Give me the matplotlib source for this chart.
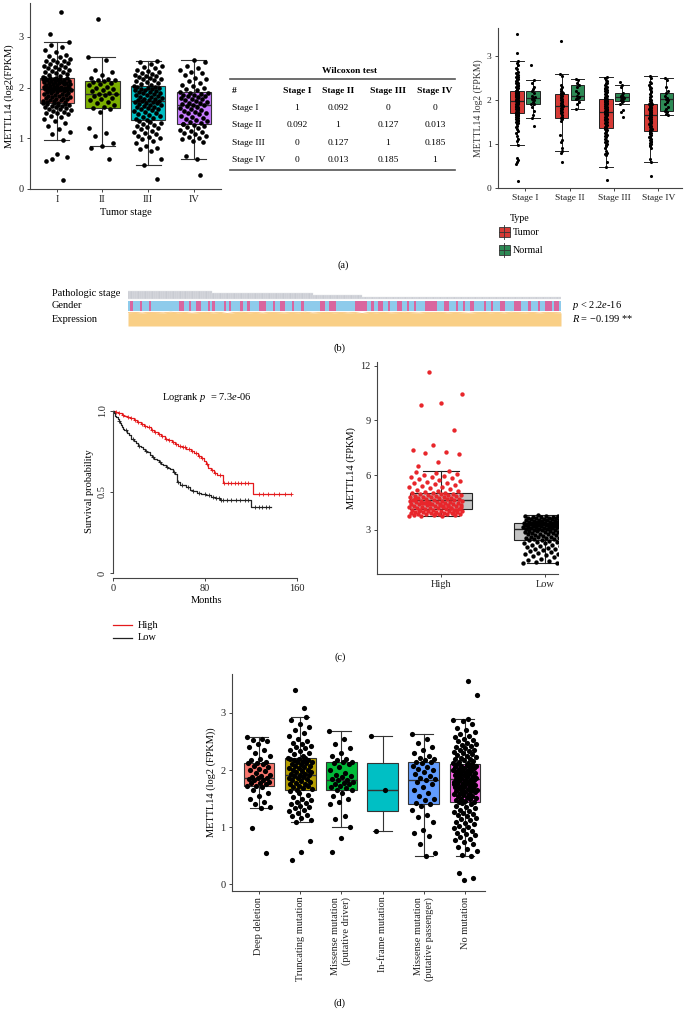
import numpy as np
import matplotlib
matplotlib.use('Agg')
import matplotlib.pyplot as plt
from matplotlib.patches import Rectangle

plt.rcParams['font.family'] = ['Liberation Serif', 'DejaVu Serif']
plt.rcParams['mathtext.fontset'] = 'custom'
plt.rcParams['mathtext.rm'] = 'Liberation Serif'
plt.rcParams['mathtext.it'] = 'Liberation Serif:italic'
plt.rcParams['font.size'] = 7.5

# ---------------- (a) METTL14 by tumor stage ----------------
stage_names = ['I', 'II', 'III', 'IV']
stage_ticks = ['Stage I', 'Stage II', 'Stage III', 'Stage IV']
stage1 = [2.21, 2.23, 2.25, 2.27, 2.28, 2.3, 2.31, 2.33, 2.35, 2.36, 2.38, 2.4, 2.41, 2.43, 2.45,
          2.47, 2.48, 2.5, 2.52, 2.53, 2.55, 2.57, 2.6, 2.62, 2.65, 2.7, 2.74, 2.8, 2.85, 2.9,
          1.70, 1.71, 1.72, 1.73, 1.74, 1.75, 1.76, 1.77, 1.78, 1.79, 1.8, 1.81, 1.82, 1.83, 1.84,
          1.85, 1.86, 1.87, 1.88, 1.89, 1.9, 1.91, 1.92, 1.93, 1.94, 1.95, 1.95, 1.96, 1.96, 1.97,
          1.97, 1.98, 1.98, 1.99, 1.99, 2.0, 2.0, 2.01, 2.01, 2.02, 2.03, 2.04, 2.05, 2.06, 2.07,
          2.07, 2.08, 2.09, 2.1, 2.1, 2.11, 2.12, 2.12, 2.13, 2.14, 2.15, 2.15, 2.16, 2.17, 2.17,
          2.18, 2.19, 2.19, 2.2, 2.2, 0.97, 1.08, 1.12, 1.18, 1.25, 1.3, 1.35, 1.38, 1.42, 1.45,
          1.47, 1.49, 1.5, 1.52, 1.54, 1.55, 1.57, 1.58, 1.6, 1.61, 1.62, 1.63, 1.64, 1.65, 1.66,
          1.67, 1.68, 1.69, 1.69, 3.5, 3.06, 0.64, 0.69, 0.55, 0.17, 0.6]
stage2 = [2.6, 2.55, 2.35, 2.3, 2.25, 2.2, 2.18, 2.16, 2.15, 2.13, 2.12, 2.1, 2.08, 2.05, 2.02,
          2.0, 1.97, 1.95, 1.93, 1.9, 1.88, 1.87, 1.85, 1.83, 1.8, 1.78, 1.75, 1.72, 1.7, 1.66,
          1.62, 1.6, 1.58, 1.52, 1.2, 1.1, 1.05, 0.9, 0.84, 0.8, 0.6, 3.35]
stage3 = [2.04, 2.06, 2.08, 2.1, 2.12, 2.13, 2.15, 2.17, 2.18, 2.2, 2.21, 2.22, 2.23, 2.25, 2.27,
          2.28, 2.3, 2.32, 2.35, 2.38, 2.4, 2.43, 2.46, 2.5, 2.52, 1.36, 1.38, 1.4, 1.42, 1.44,
          1.46, 1.48, 1.5, 1.52, 1.54, 1.55, 1.57, 1.58, 1.6, 1.61, 1.62, 1.64, 1.65, 1.66, 1.68,
          1.69, 1.7, 1.71, 1.72, 1.73, 1.74, 1.75, 1.76, 1.77, 1.78, 1.8, 1.81, 1.82, 1.84, 1.85,
          1.86, 1.88, 1.89, 1.9, 1.91, 1.92, 1.94, 1.95, 1.96, 1.97, 1.98, 1.99, 2.0, 2.01, 2.02,
          0.47, 0.6, 0.75, 0.78, 0.8, 0.85, 0.9, 0.95, 0.98, 1.0, 1.02, 1.05, 1.08, 1.1, 1.12,
          1.15, 1.18, 1.2, 1.22, 1.25, 1.27, 1.29, 1.31, 1.33, 1.35, 0.19]
stage4 = [1.92, 1.95, 1.97, 2.0, 2.03, 2.06, 2.1, 2.14, 2.18, 2.2, 2.25, 2.28, 2.3, 2.35, 2.38,
          2.42, 2.5, 2.55, 1.29, 1.31, 1.33, 1.35, 1.37, 1.39, 1.41, 1.43, 1.45, 1.47, 1.49, 1.5,
          1.52, 1.54, 1.56, 1.58, 1.6, 1.62, 1.63, 1.65, 1.66, 1.67, 1.69, 1.7, 1.72, 1.74, 1.75,
          1.77, 1.78, 1.8, 1.82, 1.83, 1.84, 1.85, 1.86, 1.88, 1.89, 1.9, 0.6, 0.66, 0.92, 0.95,
          0.98, 1.0, 1.02, 1.05, 1.08, 1.1, 1.12, 1.15, 1.17, 1.2, 1.22, 1.24, 1.26, 1.28, 0.28]
a_q1 = [1.70, 1.60, 1.36, 1.29]
a_med = [1.98, 1.87, 1.74, 1.66]
a_q3 = [2.20, 2.13, 2.03, 1.91]
a_lo = [0.97, 0.84, 0.47, 0.60]
a_hi = [2.90, 2.60, 2.52, 2.55]

normal1 = [2.8, 2.45, 2.4, 2.3, 2.25, 2.2, 2.15, 2.1, 2.08, 2.05, 2.02, 2.0, 1.95, 1.92, 1.9,
           1.85, 1.75, 1.65, 1.6, 1.42]
normal2 = [2.47, 2.45, 2.4, 2.35, 2.3, 2.2, 2.15, 2.1, 2.08, 2.05, 2.02, 1.95, 1.9, 1.8]
normal3 = [2.42, 2.35, 2.3, 2.15, 2.12, 2.1, 2.08, 2.07, 2.05, 2.02, 2.0, 1.98, 1.95, 1.9, 1.77,
           1.72, 1.62]
normal4 = [2.5, 2.45, 2.3, 2.2, 2.15, 2.1, 2.05, 2.02, 2.0, 1.95, 1.9, 1.85, 1.8, 1.75, 1.72,
           1.68, 1.65]
n_q1 = [1.90, 2.00, 1.98, 1.75]
n_med = [2.05, 2.10, 2.07, 2.02]
n_q3 = [2.20, 2.35, 2.15, 2.15]
n_lo = [1.60, 1.80, 1.90, 1.65]
n_hi = [2.45, 2.47, 2.35, 2.50]

wilcox_cols = ['#', 'Stage I', 'Stage II', 'Stage III', 'Stage IV']
wilcox_rows = ['Stage I', 'Stage II', 'Stage III', 'Stage IV']
wilcox_vals = [['1', '0.092', '0', '0'],
               ['0.092', '1', '0.127', '0.013'],
               ['0', '0.127', '1', '0.185'],
               ['0', '0.013', '0.185', '1']]

# ---------------- (b) heatmap strip ----------------
stage_counts = [36, 43, 21, 85]
gender = ('MFMMMFMMMF' 'MMMMMMMMMM' 'MMFFMMFMMF' 'FMMMFMFMMM' 'MFMFMMMMFM'
          'MFMMMMFFFM' 'MMFMMFFMMM' 'FMMMFMMMMM' 'MMFFMMFFFM' 'MMMMMMMFFF'
          'FFMMFMMFFM' 'MFMMMFFMMF' 'MMFMMMMFFF' 'FFMMMFFMMM' 'FMMFMMFFMM'
          'MMFMMFMMMF' 'FMMMMFFFMM' 'MFMMMFMMFF' 'FMFFM')
expression = [0.95, 0.97, 0.93, 0.98, 0.96, 0.94, 0.99, 0.95, 0.97, 0.92, 0.96, 0.98, 0.94, 0.97,
              0.9, 0.96, 0.99, 0.95, 0.97, 0.93, 0.98, 0.96, 0.94, 0.97, 0.95, 0.99, 0.93, 0.96,
              0.98, 0.95, 0.97, 0.94, 0.96, 0.9, 0.97, 0.95, 0.98, 0.94, 0.96, 0.99, 0.95, 0.93,
              0.97, 0.96, 0.98, 0.94, 0.97, 0.95, 0.92, 0.96, 0.98, 0.95, 0.97, 0.94, 0.99, 0.96,
              0.95, 0.97, 0.93, 0.98, 0.96, 0.94]

# ---------------- (c) survival ----------------
high_t = [0, 2, 4, 6, 8, 10, 12, 15, 18, 21, 24, 27, 30, 33, 36, 39, 42, 45, 48, 51, 54, 57, 60,
          64, 68, 71, 74, 77, 79, 81, 83, 85, 88, 91, 95.5, 122]
high_s = [1.0, 0.995, 0.99, 0.985, 0.975, 0.97, 0.963, 0.955, 0.945, 0.935, 0.92, 0.91, 0.9,
          0.885, 0.87, 0.86, 0.845, 0.83, 0.82, 0.81, 0.795, 0.785, 0.775, 0.768, 0.755, 0.74,
          0.725, 0.71, 0.69, 0.67, 0.65, 0.635, 0.62, 0.605, 0.555, 0.485]
high_end = 155
high_cens = [3, 5, 9, 13, 16, 19, 22, 25, 28, 31, 34, 37, 40, 43, 46, 49, 52, 55, 58, 61, 63, 66,
             69, 72, 75, 78, 82, 86, 89, 93, 97, 100, 103, 106, 109, 112, 115, 118, 127, 131,
             135, 140, 145, 150, 155]
low_t = [0, 1, 2, 3, 4, 5, 6, 7, 8, 9, 10, 12, 14, 16, 18, 20, 22, 24, 26, 28, 30, 32, 34, 36,
         38, 40, 42, 44, 46, 48, 50, 52, 54, 55.5, 56, 58, 61, 64, 67, 70, 73, 77, 81, 85, 89,
         93, 120]
low_s = [1.0, 0.985, 0.97, 0.96, 0.95, 0.94, 0.925, 0.915, 0.9, 0.89, 0.88, 0.865, 0.85, 0.83,
         0.815, 0.8, 0.785, 0.775, 0.765, 0.755, 0.745, 0.73, 0.715, 0.705, 0.695, 0.685, 0.675,
         0.665, 0.655, 0.648, 0.64, 0.625, 0.61, 0.58, 0.56, 0.545, 0.54, 0.53, 0.515, 0.505,
         0.495, 0.49, 0.48, 0.47, 0.46, 0.45, 0.41]
low_end = 138
low_cens = [5, 11, 17, 23, 29, 35, 41, 47, 53, 57, 60, 65, 70, 75, 80, 84, 87, 90, 92, 94, 96,
            99, 103, 107, 111, 115, 118, 124, 127, 130, 133, 136]

# (c) right: METTL14 FPKM in High / Low groups
group_names = ['High', 'Low']
high_fpkm = [3.76, 3.78, 3.79, 3.81, 3.82, 3.84, 3.85, 3.86, 3.88, 3.89, 3.9, 3.92, 3.93, 3.94,
             3.95, 3.97, 3.98, 3.99, 4.0, 4.02, 4.03, 4.05, 4.06, 4.07, 4.09, 4.1, 4.11, 4.13,
             4.15, 4.16, 4.18, 4.19, 4.21, 4.22, 4.24, 4.25, 4.27, 4.29, 4.3, 4.32, 4.33, 4.35,
             4.37, 4.38, 4.4, 4.41, 4.43, 4.45, 4.46, 4.48, 4.5, 4.51, 4.53, 4.55, 4.56, 4.58,
             4.6, 4.61, 4.63, 4.65, 4.66, 4.68, 4.7, 4.71, 4.73, 4.75, 4.76, 4.78, 4.8, 4.81,
             4.83, 4.85, 4.86, 4.88, 4.9, 4.91, 4.93, 4.95, 4.96, 4.98, 5.0, 5.02, 5.05, 5.08,
             5.12, 5.15, 5.2, 5.24, 5.28, 5.33, 5.37, 5.42, 5.46, 5.5, 5.55, 5.6, 5.64, 5.69,
             5.73, 5.78, 5.83, 5.88, 5.92, 5.97, 6.02, 6.08, 6.14, 6.2, 6.23, 11.65, 10.45,
             9.95, 9.85, 8.5, 7.65, 7.4, 7.25, 7.2, 7.15, 6.7, 6.5, 4.2, 4.4, 4.6, 4.3, 4.5,
             4.1, 3.9, 4.7, 4.35, 4.55, 4.25, 4.45, 4.05, 3.95]
low_fpkm = [1.17, 1.2, 1.22, 1.25, 1.3, 1.33, 1.38, 1.42, 1.45, 1.5, 1.55, 1.6, 1.62, 1.66, 1.7,
            1.73, 1.77, 1.8, 1.83, 1.86, 1.9, 1.93, 1.95, 1.98, 2.0, 2.03, 2.06, 2.1, 2.12, 2.15,
            2.18, 2.2, 2.23, 2.27, 2.3, 2.33, 2.36, 2.39, 2.42, 2.44, 2.46, 2.47, 2.49, 2.5,
            2.52, 2.53, 2.55, 2.56, 2.58, 2.6, 2.61, 2.63, 2.64, 2.66, 2.68, 2.69, 2.71, 2.72,
            2.74, 2.76, 2.77, 2.79, 2.8, 2.82, 2.84, 2.85, 2.87, 2.88, 2.9, 2.91, 2.93, 2.94,
            2.96, 2.97, 2.98, 2.99, 3.0, 3.01, 3.02, 3.03, 3.05, 3.06, 3.07, 3.08, 3.09, 3.1,
            3.11, 3.12, 3.13, 3.14, 3.15, 3.16, 3.17, 3.18, 3.19, 3.2, 3.21, 3.22, 3.23, 3.24,
            3.25, 3.26, 3.27, 3.28, 3.29, 3.3, 3.3, 3.31, 3.32, 3.32, 3.33, 3.33, 3.34, 3.34,
            3.35, 3.35, 3.36, 3.36, 3.37, 3.37, 3.38, 3.39, 3.4, 3.41, 3.42, 3.43, 3.44, 3.45,
            3.46, 3.47, 3.48, 3.49, 3.5, 3.51, 3.52, 3.53, 3.54, 3.55, 3.56, 3.57, 3.58, 3.59,
            3.6, 3.61, 3.62, 3.63, 3.64, 3.65, 3.66, 3.67, 3.68, 3.69, 3.7, 3.71, 3.72, 3.74,
            3.75, 3.77, 3.78, 3.8]
c_q1 = [4.14, 2.45]
c_med = [4.62, 3.04]
c_q3 = [5.02, 3.37]
c_lo = [3.76, 1.17]
c_hi = [6.23, 3.80]

# ---------------- (d) mutation types ----------------
mut_names = ['Deep deletion', 'Truncating mutation', 'Missense mutation\n(putative driver)',
             'In-frame mutation', 'Missense mutation\n(putative passenger)', 'No mutation']
deep_del = [2.58, 2.55, 2.52, 2.5, 2.45, 2.4, 2.35, 2.3, 2.25, 2.2, 2.18, 2.15, 2.13, 2.12, 2.1,
            2.07, 2.05, 2.02, 2.0, 1.98, 1.95, 1.92, 1.9, 1.88, 1.87, 1.86, 1.85, 1.83, 1.82,
            1.8, 1.78, 1.77, 1.75, 1.73, 1.72, 1.7, 1.65, 1.6, 1.55, 1.5, 1.45, 1.4, 1.36, 1.34,
            0.99, 0.55]
truncating = [2.22, 2.25, 2.28, 2.3, 2.33, 2.35, 2.38, 2.4, 2.42, 2.45, 2.47, 2.5, 2.55, 2.6,
              2.65, 2.7, 2.75, 2.8, 2.87, 2.93, 1.66, 1.67, 1.69, 1.7, 1.72, 1.73, 1.75, 1.76,
              1.78, 1.8, 1.81, 1.83, 1.84, 1.86, 1.87, 1.88, 1.9, 1.91, 1.92, 1.93, 1.94, 1.96,
              1.97, 1.98, 2.0, 2.01, 2.03, 2.04, 2.06, 2.07, 2.08, 2.1, 2.11, 2.12, 2.14, 2.15,
              2.16, 2.17, 2.18, 2.19, 2.2, 2.21, 1.1, 1.13, 1.17, 1.2, 1.22, 1.25, 1.28, 1.3,
              1.33, 1.35, 1.38, 1.4, 1.43, 1.45, 1.48, 1.5, 1.53, 1.56, 1.6, 1.64, 3.09, 3.4,
              0.76, 0.56, 0.42]
driver = [2.69, 2.55, 2.45, 2.38, 2.3, 2.25, 2.2, 2.17, 2.15, 2.14, 2.12, 2.1, 2.05, 2.0, 1.95,
          1.92, 1.9, 1.88, 1.85, 1.83, 1.82, 1.8, 1.78, 1.76, 1.75, 1.72, 1.7, 1.68, 1.66, 1.65,
          1.6, 1.55, 1.5, 1.45, 1.4, 1.2, 1.15, 1.0, 0.81, 0.57]
inframe = [2.6, 1.65, 0.93]
passenger = [2.63, 2.55, 2.48, 2.4, 2.35, 2.3, 2.25, 2.22, 2.2, 2.17, 2.15, 2.14, 2.12, 2.08,
             2.05, 2.02, 2.0, 1.97, 1.93, 1.9, 1.87, 1.85, 1.83, 1.8, 1.75, 1.7, 1.65, 1.6,
             1.55, 1.5, 1.47, 1.43, 1.41, 1.38, 1.3, 1.22, 1.18, 1.1, 0.95, 0.9, 0.85, 0.7,
             0.55, 0.49]
no_mut = [2.12, 2.13, 2.15, 2.16, 2.18, 2.19, 2.2, 2.22, 2.23, 2.25, 2.26, 2.28, 2.3, 2.31, 2.33,
          2.35, 2.36, 2.38, 2.4, 2.42, 2.44, 2.45, 2.47, 2.5, 2.52, 2.55, 2.57, 2.6, 2.63, 2.66,
          2.7, 2.74, 2.8, 2.85, 2.87, 2.89, 1.44, 1.45, 1.46, 1.48, 1.49, 1.5, 1.51, 1.53, 1.54,
          1.55, 1.56, 1.58, 1.59, 1.6, 1.61, 1.62, 1.63, 1.64, 1.65, 1.66, 1.67, 1.68, 1.69,
          1.7, 1.71, 1.72, 1.73, 1.74, 1.75, 1.76, 1.77, 1.78, 1.79, 1.8, 1.81, 1.82, 1.83,
          1.84, 1.85, 1.86, 1.87, 1.88, 1.89, 1.9, 1.91, 1.92, 1.93, 1.94, 1.95, 1.96, 1.97,
          1.98, 1.99, 2.0, 2.01, 2.02, 2.03, 2.04, 2.05, 2.06, 2.07, 2.08, 2.09, 2.1, 2.11,
          1.72, 1.76, 1.8, 1.84, 1.88, 1.92, 1.96, 0.49, 0.52, 0.58, 0.62, 0.66, 0.7, 0.74,
          0.78, 0.8, 0.83, 0.86, 0.88, 0.9, 0.93, 0.95, 0.98, 1.0, 1.02, 1.05, 1.07, 1.1, 1.12,
          1.14, 1.17, 1.19, 1.21, 1.23, 1.25, 1.27, 1.29, 1.31, 1.33, 1.35, 1.38, 1.4, 1.42,
          3.32, 3.56, 0.2, 0.11, 0.08]
d_q1 = [1.72, 1.66, 1.65, 1.29, 1.40, 1.44]
d_med = [1.87, 1.92, 1.82, 1.65, 1.83, 1.84]
d_q3 = [2.13, 2.21, 2.14, 2.13, 2.14, 2.11]
d_lo = [1.34, 1.10, 1.00, 0.93, 0.49, 0.49]
d_hi = [2.58, 2.93, 2.69, 2.60, 2.63, 2.89]

# ---------------- drawing ----------------
W, H = 685, 1019
AX = '#444444'
fig = plt.figure(figsize=(W / 100, H / 100), dpi=100)


def rect(x0, y0, x1, y1):
    return [x0 / W, 1 - y1 / H, (x1 - x0) / W, (y1 - y0) / H]


def style(ax, size=7.5):
    for s in ['top', 'right']:
        ax.spines[s].set_visible(False)
    for s in ['left', 'bottom']:
        ax.spines[s].set_color(AX)
        ax.spines[s].set_linewidth(0.8)
    ax.tick_params(color=AX, length=2.5, width=0.7, labelsize=size, pad=2, labelcolor='#222222')
    ax.patch.set_visible(False)


def jitter(n, w):
    return (np.arange(n) * 0.618034 % 1 - 0.5) * w


def stats(q1, med, q3, lo, hi):
    return [dict(q1=a, med=b, q3=c, whislo=d, whishi=e, fliers=[])
            for a, b, c, d, e in zip(q1, med, q3, lo, hi)]


def boxes(ax, st, pos, colors, width, capw, edge='#333333', lw=0.8):
    bp = ax.bxp(st, positions=pos, widths=width, patch_artist=True, showfliers=False,
                capwidths=capw, manage_ticks=False,
                boxprops=dict(edgecolor=edge, linewidth=lw),
                medianprops=dict(color=edge, linewidth=lw + 0.2),
                whiskerprops=dict(color=edge, linewidth=lw),
                capprops=dict(color=edge, linewidth=lw))
    for patch, c in zip(bp['boxes'], colors):
        patch.set_facecolor(c)


overlay = fig.add_axes([0, 0, 1, 1])
overlay.set_xlim(0, W)
overlay.set_ylim(H, 0)
overlay.axis('off')

# (a) left
ax1 = fig.add_axes(rect(30, 3, 221, 189))
style(ax1)
stage_data = [stage1, stage2, stage3, stage4]
boxes(ax1, stats(a_q1, a_med, a_q3, a_lo, a_hi), [1, 2, 3, 4],
      ['#F8766D', '#7CAE00', '#00BFC4', '#C77CFF'], 0.75, 0.55)
for i, g in enumerate(stage_data):
    ax1.scatter(i + 1 + jitter(len(g), 0.62), g, s=11, color='black', lw=0, zorder=3)
ax1.set_xlim(0.41, 4.6)
ax1.set_ylim(0, 3.67)
ax1.set_xticks([1, 2, 3, 4], stage_names)
ax1.set_yticks([0, 1, 2, 3])
ax1.set_xlabel('Tumor stage', fontsize=7.5, labelpad=3)
ax1.set_ylabel('METTL14 (log2(FPKM)', fontsize=7.5, labelpad=3)

# (a) middle table
overlay.text(350, 71, 'Wilcoxon test', ha='center', va='center', fontsize=6.8, fontweight='bold')
overlay.plot([230, 455], [79, 79], color='#555555', lw=1.2)
overlay.plot([230, 455], [170, 170], color='#555555', lw=1.2)
col_x = [232, 297, 338, 388, 435]
for x, name in zip(col_x, wilcox_cols):
    overlay.text(x, 91, name, ha='left' if name == '#' else 'center', va='center',
                 fontsize=6.8, fontweight='bold')
for r, (row, vals) in enumerate(zip(wilcox_rows, wilcox_vals)):
    y = 108 + r * 17.4
    overlay.text(232, y, row, ha='left', va='center', fontsize=6.8)
    for x, v in zip(col_x[1:], vals):
        overlay.text(x, y, v, ha='center', va='center', fontsize=6.8)

# (a) right
ax2 = fig.add_axes(rect(498, 28, 682, 188))
style(ax2, 6.8)
tum_pos = np.arange(1, 5) - 0.18
nor_pos = np.arange(1, 5) + 0.18
normal_data = [normal1, normal2, normal3, normal4]
boxes(ax2, stats(a_q1, a_med, a_q3, a_lo, a_hi), tum_pos, ['#D63A35'] * 4, 0.3, 0.3,
      edge='#222222', lw=0.7)
boxes(ax2, stats(n_q1, n_med, n_q3, n_lo, n_hi), nor_pos, ['#2D8A55'] * 4, 0.3, 0.3,
      edge='#222222', lw=0.7)
for i in range(4):
    g = stage_data[i]
    ax2.scatter(tum_pos[i] + jitter(len(g), 0.05), g, s=5, color='black', lw=0, zorder=3)
    g = normal_data[i]
    ax2.scatter(nor_pos[i] + jitter(len(g), 0.08), g, s=5, color='black', lw=0, zorder=3)
ax2.set_xlim(0.39, 4.53)
ax2.set_ylim(0, 3.64)
ax2.set_xticks([1, 2, 3, 4], stage_ticks)
ax2.set_yticks([0, 1, 2, 3])
ax2.set_ylabel('METTL14 log2 (FPKM)', fontsize=7, labelpad=3, color='#333333')

overlay.text(520, 218, 'Type', ha='center', va='center', fontsize=7.2)
for y, lab, col in [(232, 'Tumor', '#D63A35'), (250, 'Normal', '#2D8A55')]:
    overlay.add_patch(Rectangle((499, y - 5), 11, 10, facecolor=col, edgecolor='#333333', lw=0.6))
    overlay.plot([504.5, 504.5], [y - 7, y + 7], color='#333333', lw=0.6)
    overlay.plot([499, 510], [y, y], color='#333333', lw=0.6)
    overlay.text(513, y, lab, ha='left', va='center', fontsize=7.2)
overlay.text(343, 265, '(a)', ha='center', va='center', fontsize=7.5)

# (b) strip
axb = fig.add_axes(rect(128, 289, 561, 327))
N = len(gender)
idx = np.arange(N)
stage_of = np.repeat([1, 2, 3, 4], stage_counts)
axb.bar(idx, (5 - stage_of) * 2, bottom=28, width=1, align='edge', color='#c8cbd2',
        edgecolor='#e6e7ea', linewidth=0.3)
axb.bar(idx, 10, bottom=16, width=1, align='edge', linewidth=0,
        color=['#d9669f' if g == 'F' else '#8ecbeb' for g in gender])
ex = np.linspace(0, N, len(expression))
axb.fill_between(ex, 1, 1 + 14 * np.array(expression), color='#f9cf86', lw=0)
axb.plot(ex, 1 + 14 * np.array(expression), color='#f7b862', lw=0.5)
axb.set_xlim(0, N)
axb.set_ylim(0, 38)
axb.axis('off')
overlay.text(52, 293, 'Pathologic stage', ha='left', va='center', fontsize=7.5)
overlay.text(52, 306, 'Gender', ha='left', va='center', fontsize=7.5)
overlay.text(52, 320, 'Expression', ha='left', va='center', fontsize=7.5)
overlay.text(572, 305, r'$p$ < 2.2$e$-16', ha='left', va='center', fontsize=7.5)
overlay.text(572, 318, r'$R$ = −0.199 **', ha='left', va='center', fontsize=7.5)
overlay.text(340, 348, '(b)', ha='center', va='center', fontsize=7.5)

# (c) left: Kaplan-Meier
ax3 = fig.add_axes(rect(113, 404.5, 300, 578))
style(ax3)
for t, s, end, cens, col in [(high_t, high_s, high_end, high_cens, '#E41A1C'),
                             (low_t, low_s, low_end, low_cens, '#222222')]:
    ax3.step(t + [end], s + [s[-1]], where='post', color=col, lw=0.9)
    ci = np.searchsorted(t, cens, side='right') - 1
    ax3.plot(cens, np.array(s)[ci], '+', color=col, ms=3.5, mew=0.6)
ax3.set_xlim(0, 163)
ax3.set_ylim(-0.031, 1.04)
ax3.spines['left'].set_bounds(0, 1)
ax3.spines['bottom'].set_bounds(0, 160)
ax3.set_xticks([0, 80, 160])
ax3.set_yticks([0, 0.5, 1.0], ['0', '0.5', '1.0'])
for lab in ax3.get_yticklabels():
    lab.set_rotation(90)
    lab.set_va('center')
ax3.set_title(r'Logrank $p$  = 7.3$e$-06', fontsize=7.5, pad=3)
ax3.set_xlabel('Months', fontsize=7.5, labelpad=2)
ax3.set_ylabel('Survival probability', fontsize=7.5, labelpad=3)
overlay.plot([113, 132], [625, 625], color='#E41A1C', lw=0.9)
overlay.plot([113, 132], [638, 638], color='#222222', lw=0.9)
overlay.text(138, 625, 'High', ha='left', va='center', fontsize=7.5)
overlay.text(138, 638, 'Low', ha='left', va='center', fontsize=7.5)

# (c) right
ax4 = fig.add_axes(rect(377, 362, 558, 574))
style(ax4)
boxes(ax4, stats(c_q1, c_med, c_q3, c_lo, c_hi), [1, 2], ['#c3c3c3', '#c3c3c3'], 0.6, 0.35,
      edge='#222222', lw=0.8)
ax4.scatter(0.95 + jitter(len(high_fpkm), 0.52), high_fpkm, s=10, color='#E8262B', lw=0, zorder=3)
ax4.scatter(2.05 + jitter(len(low_fpkm), 0.52), low_fpkm, s=10, color='black', lw=0, zorder=3)
ax4.set_xlim(0.385, 2.125)
ax4.set_ylim(0.59, 12.2)
ax4.set_xticks([1, 2], group_names)
ax4.set_yticks([3, 6, 9, 12])
ax4.set_ylabel('METTL14 (FPKM)', fontsize=7.5, labelpad=3)
overlay.text(340, 657, '(c)', ha='center', va='center', fontsize=7.5)

# (d)
ax5 = fig.add_axes(rect(232, 674, 485, 890.5))
style(ax5)
mut_data = [deep_del, truncating, driver, inframe, passenger, no_mut]
boxes(ax5, stats(d_q1, d_med, d_q3, d_lo, d_hi), range(1, 7),
      ['#F8766D', '#B79F00', '#00BA38', '#00BFC4', '#619CFF', '#F564E3'], 0.75, 0.45)
for i, g in enumerate(mut_data):
    ax5.scatter(i + 1 + jitter(len(g), 0.58), g, s=14, color='black', lw=0, zorder=3)
ax5.set_xlim(0.345, 6.485)
ax5.set_ylim(-0.105, 3.68)
ax5.set_xticks(range(1, 7), mut_names, rotation=90, ha='center', va='top', multialignment='right')
ax5.set_yticks([0, 1, 2, 3])
ax5.set_ylabel('METTL14 (log2 (FPKM))', fontsize=7.5, labelpad=3)
overlay.text(340, 1003, '(d)', ha='center', va='center', fontsize=7.5)

fig.savefig('out.png', dpi=100)
